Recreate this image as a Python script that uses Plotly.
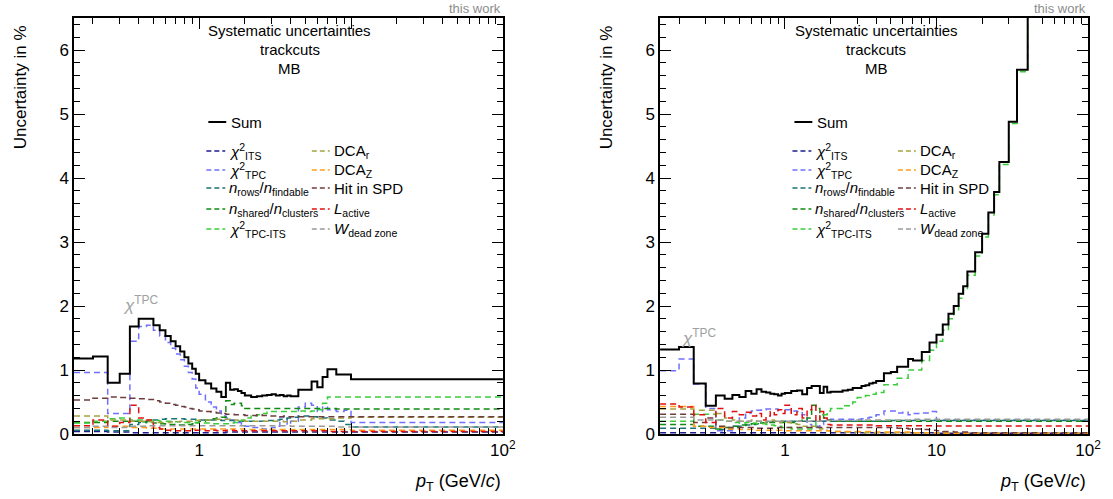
import plotly.graph_objects as go

# ---------------- data ----------------
EDGES_L = [0.15, 0.2, 0.25, 0.3, 0.35, 0.4, 0.45, 0.5, 0.55, 0.6, 0.65, 0.7, 0.75, 0.8, 0.85, 0.9, 0.95,
           1.0, 1.1, 1.2, 1.3, 1.4, 1.5, 1.6, 1.7, 1.8, 1.9,
           2.0, 2.2, 2.4, 2.6, 2.8, 3.0, 3.2, 3.4, 3.6, 3.8,
           4.0, 4.5, 5.0, 5.5, 6.0, 6.5, 7.0, 8.0, 9.0, 10.0, 100.0]
EDGES_R = [0.15, 0.2, 0.25, 0.3, 0.35, 0.4, 0.45, 0.5, 0.55, 0.6, 0.65, 0.7, 0.75, 0.8, 0.85, 0.9, 0.95,
           1.0, 1.1, 1.2, 1.3, 1.4, 1.5, 1.6, 1.7, 1.8, 1.9,
           2.0, 2.2, 2.4, 2.6, 2.8, 3.0, 3.2, 3.4, 3.6, 3.8,
           4.0, 4.5, 5.0, 5.5, 6.0, 6.5, 7.0, 8.0, 9.0, 10.0,
           11, 12, 13, 14, 15, 16, 18, 20, 22, 24, 26, 30, 34, 40, 50, 60, 80, 100]

# left panel (47 bins)
sum_L = [1.18, 1.21, 0.80, 0.94, 1.68, 1.80, 1.80, 1.70, 1.62, 1.53, 1.45, 1.37, 1.29, 1.20, 1.10, 1.02, 0.94,
         0.84, 0.79, 0.71, 0.66, 0.58, 0.80, 0.69, 0.70, 0.67, 0.64,
         0.60, 0.58, 0.59, 0.60, 0.61, 0.62, 0.60, 0.61, 0.59, 0.60,
         0.59, 0.69, 0.69, 0.82, 0.73, 0.89,
         1.01, 0.93, 0.93,
         0.855]
chi2its_L = [0.04, 0.04, 0.03, 0.03, 0.02, 0.02, 0.02, 0.02, 0.02, 0.02, 0.02, 0.02, 0.02, 0.02, 0.02, 0.02, 0.02,
             0.02, 0.02, 0.02, 0.02, 0.02, 0.03, 0.03, 0.03, 0.03, 0.03,
             0.03, 0.03, 0.03, 0.03, 0.03, 0.03, 0.03, 0.03, 0.03, 0.03,
             0.03, 0.03, 0.03, 0.03, 0.03, 0.03,
             0.03, 0.03, 0.03,
             0.03]
chi2tpc_L = [0.96, 0.96, 0.32, 0.32, 1.45, 1.68, 1.70, 1.62, 1.53, 1.43, 1.34, 1.25, 1.16, 1.06, 0.96, 0.86, 0.72,
             0.62, 0.50, 0.42, 0.36, 0.28, 0.25, 0.22, 0.20, 0.18, 0.15,
             0.12, 0.10, 0.10, 0.08, 0.08, 0.10, 0.12, 0.27, 0.25, 0.15,
             0.20, 0.42, 0.48, 0.45, 0.35, 0.42,
             0.38, 0.35, 0.37,
             0.18]
nrows_L = [0.06, 0.06, 0.05, 0.05, 0.15, 0.18, 0.20, 0.22, 0.23, 0.24, 0.24, 0.24, 0.24, 0.23, 0.23, 0.23, 0.22,
           0.22, 0.22, 0.22, 0.22, 0.21, 0.21, 0.21, 0.21, 0.20, 0.20,
           0.20, 0.20, 0.20, 0.20, 0.21, 0.21, 0.22, 0.23, 0.24, 0.25,
           0.26, 0.28, 0.28, 0.27, 0.26, 0.25,
           0.22, 0.20, 0.15,
           0.11]
nshared_L = [0.18, 0.18, 0.20, 0.20, 0.20, 0.19, 0.18, 0.17, 0.16, 0.15, 0.15, 0.14, 0.14, 0.14, 0.15, 0.16, 0.18,
             0.20, 0.22, 0.24, 0.25, 0.26, 0.52, 0.46, 0.48, 0.48, 0.44,
             0.40, 0.40, 0.40, 0.40, 0.40, 0.40, 0.40, 0.40, 0.40, 0.40,
             0.40, 0.40, 0.40, 0.40, 0.40, 0.40,
             0.40, 0.39, 0.39,
             0.39]
chi2tpcits_L = [0.17, 0.20, 0.24, 0.25, 0.22, 0.22, 0.22, 0.21, 0.20, 0.20, 0.19, 0.19, 0.19, 0.18, 0.18, 0.18, 0.17,
                0.17, 0.17, 0.16, 0.16, 0.16, 0.16, 0.17, 0.18, 0.20, 0.22,
                0.25, 0.28, 0.30, 0.32, 0.34, 0.35, 0.35, 0.35, 0.35, 0.35,
                0.35, 0.36, 0.35, 0.36, 0.38, 0.48,
                0.58, 0.58, 0.58,
                0.58]
dcar_L = [0.28, 0.28, 0.22, 0.22, 0.20, 0.20, 0.19, 0.18, 0.18, 0.18, 0.19, 0.19, 0.20, 0.20, 0.20, 0.21, 0.21,
          0.22, 0.22, 0.22, 0.23, 0.23, 0.23, 0.22, 0.22, 0.21, 0.21,
          0.20, 0.20, 0.20, 0.20, 0.20, 0.20, 0.20, 0.20, 0.19, 0.20,
          0.20, 0.22, 0.22, 0.24, 0.24, 0.24,
          0.24, 0.25, 0.25,
          0.26]
dcaz_L = [0.10, 0.10, 0.12, 0.12, 0.10, 0.10, 0.09, 0.09, 0.08, 0.08, 0.08, 0.08, 0.08, 0.08, 0.08, 0.08, 0.08,
          0.08, 0.08, 0.08, 0.08, 0.08, 0.08, 0.08, 0.08, 0.08, 0.08,
          0.07, 0.07, 0.07, 0.07, 0.07, 0.07, 0.07, 0.07, 0.07, 0.07,
          0.07, 0.07, 0.07, 0.07, 0.07, 0.07,
          0.07, 0.07, 0.07,
          0.06]
spd_L = [0.53, 0.56, 0.58, 0.57, 0.56, 0.55, 0.54, 0.52, 0.50, 0.48, 0.46, 0.45, 0.43, 0.42, 0.40, 0.39, 0.38,
         0.36, 0.35, 0.34, 0.33, 0.32, 0.31, 0.31, 0.30, 0.30, 0.30,
         0.29, 0.29, 0.30, 0.29, 0.28, 0.28, 0.28, 0.27, 0.28, 0.27,
         0.27, 0.27, 0.27, 0.27, 0.27, 0.27,
         0.27, 0.27, 0.27,
         0.27]
lactive_L = [0.13, 0.22, 0.12, 0.18, 0.45, 0.25, 0.22, 0.10, 0.08, 0.06, 0.05, 0.05, 0.05, 0.05, 0.05, 0.06, 0.06,
             0.06, 0.05, 0.06, 0.05, 0.05, 0.06, 0.06, 0.05, 0.05, 0.05,
             0.05, 0.05, 0.05, 0.05, 0.05, 0.05, 0.05, 0.05, 0.05, 0.05,
             0.05, 0.05, 0.05, 0.05, 0.05, 0.05,
             0.04, 0.04, 0.04,
             0.04]
wdead_L = [0.10, 0.12, 0.10, 0.10, 0.12, 0.12, 0.13, 0.13, 0.13, 0.13, 0.13, 0.13, 0.13, 0.13, 0.13, 0.13, 0.13,
           0.13, 0.13, 0.13, 0.13, 0.13, 0.13, 0.13, 0.13, 0.13, 0.13,
           0.13, 0.13, 0.13, 0.13, 0.13, 0.13, 0.13, 0.13, 0.13, 0.13,
           0.12, 0.12, 0.12, 0.12, 0.12, 0.12,
           0.12, 0.11, 0.11,
           0.11]

# right panel (64 bins)
sum_R = [1.32, 1.36, 0.79, 0.44, 0.60, 0.55, 0.61, 0.58, 0.67, 0.63, 0.70, 0.66, 0.65, 0.63, 0.62, 0.60, 0.63,
         0.64, 0.67, 0.68, 0.62, 0.72, 0.75, 0.75, 0.64, 0.74, 0.65,
         0.66, 0.66, 0.68, 0.69, 0.72, 0.72, 0.75, 0.76, 0.79, 0.80,
         0.83, 0.95, 0.97, 1.05, 1.05, 1.17,
         1.15, 1.28, 1.43,
         1.55, 1.71, 1.88, 2.00, 2.19, 2.31, 2.54, 2.84, 3.13, 3.46, 3.78, 4.25, 4.88, 5.69, 7.20, 8.80, 11.0, 14.5]
chi2its_R = [0.02, 0.02, 0.02, 0.02, 0.02, 0.02, 0.02, 0.02, 0.02, 0.02, 0.02, 0.02, 0.02, 0.02, 0.02, 0.02, 0.02,
             0.02, 0.02, 0.02, 0.02, 0.02, 0.02, 0.02, 0.02, 0.02, 0.02,
             0.02, 0.02, 0.02, 0.02, 0.02, 0.02, 0.02, 0.02, 0.02, 0.02,
             0.02, 0.02, 0.02, 0.02, 0.02, 0.02,
             0.02, 0.02, 0.02,
             0.01, 0.01, 0.01, 0.01, 0.01, 0.01, 0.01, 0.01, 0.01, 0.01, 0.01, 0.01, 0.01, 0.01, 0.01, 0.01, 0.01, 0.01]
chi2tpc_R = [0.99, 1.17, 0.78, 0.40, 0.05, 0.05, 0.12, 0.25, 0.33, 0.36, 0.37, 0.38, 0.39, 0.39, 0.39, 0.38, 0.38,
             0.38, 0.36, 0.35, 0.30, 0.15, 0.10, 0.12, 0.15, 0.20, 0.22,
             0.23, 0.23, 0.23, 0.23, 0.23, 0.23, 0.24, 0.25, 0.26, 0.28,
             0.30, 0.36, 0.36, 0.33, 0.34, 0.30,
             0.32, 0.33, 0.35,
             0.22, 0.22, 0.22, 0.22, 0.22, 0.22, 0.22, 0.22, 0.22, 0.22, 0.22, 0.22, 0.22, 0.22, 0.22, 0.22, 0.22, 0.22]
nrows_R = [0.09, 0.09, 0.09, 0.09, 0.07, 0.08, 0.10, 0.12, 0.14, 0.15, 0.16, 0.17, 0.18, 0.19, 0.20, 0.20, 0.20,
           0.20, 0.20, 0.20, 0.20, 0.20, 0.20, 0.20, 0.20, 0.20, 0.20,
           0.20, 0.20, 0.20, 0.20, 0.20, 0.20, 0.20, 0.20, 0.20, 0.20,
           0.20, 0.20, 0.21, 0.21, 0.21, 0.21,
           0.21, 0.21, 0.21,
           0.21, 0.21, 0.21, 0.21, 0.21, 0.21, 0.21, 0.21, 0.21, 0.21, 0.21, 0.21, 0.21, 0.21, 0.21, 0.21, 0.21, 0.21]
nshared_R = [0.15, 0.15, 0.12, 0.12, 0.08, 0.10, 0.12, 0.14, 0.15, 0.16, 0.17, 0.17, 0.18, 0.18, 0.18, 0.18, 0.18,
             0.18, 0.18, 0.20, 0.22, 0.25, 0.45, 0.40, 0.30, 0.25, 0.22,
             0.20, 0.20, 0.20, 0.20, 0.20, 0.20, 0.20, 0.20, 0.20, 0.20,
             0.20, 0.20, 0.20, 0.20, 0.20, 0.20,
             0.20, 0.20, 0.20,
             0.20, 0.20, 0.20, 0.20, 0.20, 0.20, 0.20, 0.20, 0.20, 0.20, 0.20, 0.20, 0.20, 0.20, 0.20, 0.20, 0.20, 0.20]
chi2tpcits_R = [0.20, 0.20, 0.31, 0.31, 0.22, 0.20, 0.18, 0.17, 0.18, 0.17, 0.16, 0.16, 0.15, 0.14, 0.13, 0.12, 0.10,
                0.10, 0.08, 0.08, 0.08, 0.08, 0.10, 0.20, 0.28, 0.30, 0.36,
                0.40, 0.40, 0.44, 0.44, 0.50, 0.57, 0.57, 0.60, 0.62, 0.62,
                0.65, 0.77, 0.77, 0.87, 0.87, 1.00,
                1.00, 1.15, 1.31,
                1.45, 1.62, 1.80, 1.93, 2.12, 2.25, 2.48, 2.78, 3.08, 3.42, 3.74, 4.21, 4.85, 5.66, 7.20, 8.80, 11.0, 14.5]
dcar_R = [0.39, 0.39, 0.37, 0.37, 0.32, 0.25, 0.22, 0.20, 0.20, 0.22, 0.20, 0.18, 0.20, 0.22, 0.20, 0.18, 0.20,
          0.18, 0.16, 0.15, 0.12, 0.10, 0.12, 0.10, 0.08, 0.06, 0.05,
          0.04, 0.04, 0.03, 0.03, 0.03, 0.03, 0.02, 0.02, 0.02, 0.02,
          0.02, 0.02, 0.02, 0.02, 0.02, 0.02,
          0.02, 0.02, 0.02,
          0.02, 0.02, 0.02, 0.02, 0.02, 0.02, 0.02, 0.02, 0.02, 0.02, 0.02, 0.02, 0.02, 0.02, 0.02, 0.02, 0.02, 0.02]
dcaz_R = [0.43, 0.43, 0.12, 0.10, 0.10, 0.08, 0.08, 0.07, 0.07, 0.07, 0.06, 0.06, 0.06, 0.06, 0.06, 0.06, 0.06,
          0.05, 0.05, 0.05, 0.05, 0.05, 0.05, 0.05, 0.05, 0.05, 0.05,
          0.04, 0.04, 0.04, 0.04, 0.04, 0.04, 0.04, 0.04, 0.04, 0.04,
          0.03, 0.03, 0.03, 0.03, 0.03, 0.03,
          0.02, 0.02, 0.02,
          0.01, 0.01, 0.01, 0.01, 0.01, 0.01, 0.01, 0.01, 0.01, 0.01, 0.01, 0.01, 0.01, 0.01, 0.01, 0.01, 0.01, 0.01]
spd_R = [0.31, 0.31, 0.18, 0.25, 0.12, 0.10, 0.10, 0.10, 0.10, 0.10, 0.09, 0.09, 0.09, 0.09, 0.09, 0.10, 0.10,
         0.10, 0.10, 0.10, 0.10, 0.10, 0.10, 0.10, 0.10, 0.10, 0.10,
         0.10, 0.10, 0.10, 0.10, 0.10, 0.10, 0.10, 0.10, 0.10, 0.10,
         0.10, 0.10, 0.10, 0.09, 0.09, 0.08,
         0.08, 0.07, 0.06,
         0.05, 0.04, 0.04, 0.03, 0.03, 0.03, 0.02, 0.02, 0.02, 0.02, 0.02, 0.02, 0.02, 0.02, 0.02, 0.02, 0.02, 0.02]
lactive_R = [0.47, 0.42, 0.30, 0.18, 0.40, 0.25, 0.35, 0.30, 0.34, 0.28, 0.32, 0.22, 0.28, 0.35, 0.30, 0.38, 0.32,
             0.45, 0.30, 0.40, 0.25, 0.38, 0.45, 0.20, 0.35, 0.25, 0.15,
             0.14, 0.14, 0.14, 0.14, 0.14, 0.14, 0.14, 0.14, 0.14, 0.14,
             0.13, 0.13, 0.13, 0.13, 0.13, 0.13,
             0.13, 0.13, 0.13,
             0.125, 0.125, 0.125, 0.125, 0.125, 0.125, 0.125, 0.125, 0.125, 0.125, 0.125, 0.125, 0.125, 0.125, 0.125, 0.125, 0.125, 0.125]
wdead_R = [0.26, 0.26, 0.22, 0.22, 0.22, 0.20, 0.20, 0.20, 0.20, 0.20, 0.20, 0.20, 0.20, 0.20, 0.20, 0.20, 0.20,
           0.20, 0.20, 0.20, 0.20, 0.20, 0.20, 0.20, 0.20, 0.21, 0.21,
           0.21, 0.21, 0.21, 0.21, 0.21, 0.22, 0.22, 0.22, 0.22, 0.22,
           0.22, 0.22, 0.22, 0.22, 0.22, 0.22,
           0.23, 0.23, 0.23,
           0.23, 0.23, 0.23, 0.23, 0.23, 0.23, 0.23, 0.23, 0.23, 0.23, 0.23, 0.23, 0.23, 0.23, 0.23, 0.23, 0.23, 0.23]

X_TICKS = [1, 10, 100]
X_TICKTEXT = ["1", "10", "10<sup>2</sup>"]
X_MINOR = [0.2, 0.3, 0.4, 0.5, 0.6, 0.7, 0.8, 0.9, 2, 3, 4, 5, 6, 7, 8, 9, 20, 30, 40, 50, 60, 70, 80, 90]
Y_TICKS = [0, 1, 2, 3, 4, 5, 6]

COMPONENTS = [
    ("chi2its", "#1c1c8f", "<i>χ</i><sup>2</sup><sub>ITS</sub>"),
    ("chi2tpc", "#7070ff", "<i>χ</i><sup>2</sup><sub>TPC</sub>"),
    ("nrows", "#1a7373", "<i>n</i><sub>rows</sub>/<i>n</i><sub>findable</sub>"),
    ("nshared", "#108a10", "<i>n</i><sub>shared</sub>/<i>n</i><sub>clusters</sub>"),
    ("chi2tpcits", "#3acc3a", "<i>χ</i><sup>2</sup><sub>TPC-ITS</sub>"),
    ("dcar", "#a3a342", "DCA<sub>r</sub>"),
    ("dcaz", "#ff9d1a", "DCA<sub>Z</sub>"),
    ("spd", "#6e3c3c", "Hit in SPD"),
    ("lactive", "#e01010", "<i>L</i><sub>active</sub>"),
    ("wdead", "#9a9a9a", "<i>W</i><sub>dead zone</sub>"),
]
DATA_L = {"chi2its": chi2its_L, "chi2tpc": chi2tpc_L, "nrows": nrows_L, "nshared": nshared_L,
          "chi2tpcits": chi2tpcits_L, "dcar": dcar_L, "dcaz": dcaz_L, "spd": spd_L,
          "lactive": lactive_L, "wdead": wdead_L}
DATA_R = {"chi2its": chi2its_R, "chi2tpc": chi2tpc_R, "nrows": nrows_R, "nshared": nshared_R,
          "chi2tpcits": chi2tpcits_R, "dcar": dcar_R, "dcaz": dcaz_R, "spd": spd_R,
          "lactive": lactive_R, "wdead": wdead_R}

# ---------------- layout geometry ----------------
W, H = 1113, 499
ML, MR, MT, MB = 74, 20, 18, 65
PW = W - ML - MR
PH = H - MT - MB
FONT = "Liberation Sans, Arial, sans-serif"


def fx(p):
    return (p - ML) / PW


def fy(p):
    return (H - MB - p) / PH


fig = go.Figure()


def step(edges, vals, xa, ya, color, dash, width):
    fig.add_trace(go.Scatter(
        x=edges, y=list(vals) + [vals[-1]], mode="lines", xaxis=xa, yaxis=ya,
        line=dict(shape="hv", color=color, dash=dash, width=width),
        showlegend=False, hoverinfo="skip"))


for edges, data, s, xa, ya in [(EDGES_L, DATA_L, sum_L, "x", "y"), (EDGES_R, DATA_R, sum_R, "x2", "y2")]:
    for key, col, _ in COMPONENTS:
        step(edges, data[key], xa, ya, col, "6px,4px", 1.5)
    step(edges, s, xa, ya, "black", "solid", 2)

axis_common = dict(showline=True, linecolor="black", linewidth=1.5, mirror="ticks",
                   ticks="inside", tickcolor="black", showgrid=False, zeroline=False,
                   tickfont=dict(family=FONT, size=17, color="black"))
xa = dict(type="log", range=[-0.8239, 2], tickvals=X_TICKS, ticktext=X_TICKTEXT, ticklen=11, tickwidth=1.3,
          minor=dict(tickvals=X_MINOR, ticks="inside", ticklen=6, tickcolor="black", tickwidth=1.2),
          **axis_common)
ya = dict(range=[0, 6.5], tickvals=Y_TICKS, ticklen=11, tickwidth=1.3,
          minor=dict(dtick=0.2, tick0=0, ticks="inside", ticklen=6, tickcolor="black", tickwidth=1.2),
          **axis_common)

dom_l = [0, fx(505)]
dom_r = [fx(663), 1]
fig.update_layout(
    width=W, height=H, margin=dict(l=ML, r=MR, t=MT, b=MB),
    paper_bgcolor="white", plot_bgcolor="white", showlegend=False,
    font=dict(family=FONT, color="black"),
    xaxis={**xa, "domain": dom_l, "anchor": "y"},
    yaxis={**ya, "domain": [0, 1], "anchor": "x"},
    xaxis2={**xa, "domain": dom_r, "anchor": "y2"},
    yaxis2={**ya, "domain": [0, 1], "anchor": "x2"},
)

ann = []
shapes = []


def text(x, y, t, size=16, color="black", xanchor="left", yanchor="middle", angle=0):
    ann.append(dict(x=fx(x), y=fy(y), xref="paper", yref="paper", text=t, showarrow=False,
                    xanchor=xanchor, yanchor=yanchor, textangle=angle,
                    font=dict(family=FONT, size=size, color=color)))


def seg(x0, x1, y, color, dash, width=1.5):
    shapes.append(dict(type="line", xref="paper", yref="paper", x0=fx(x0), x1=fx(x1), y0=fy(y), y1=fy(y),
                       line=dict(color=color, dash=dash, width=width)))


ROWS1 = [151, 170, 188, 209, 229]
for off, xend, chi_pos in [(0, 505, (141, 304)), (589, 1093, (702, 337))]:
    # header
    cx = 291 + off
    text(cx, 30, "Systematic uncertainties", 15, xanchor="center")
    text(cx, 50, "trackcuts", 15, xanchor="center")
    text(cx, 68, "MB", 15, xanchor="center")
    # this work
    text(xend, 8, "this work", 13, color="#8c8c8c", xanchor="right")
    # axis titles
    text(21 + off, 87, "Uncertainty in %", 17, xanchor="center", angle=-90)
    text(xend, 482, "<i>p</i><sub>T</sub> (GeV/<i>c</i>)", 18, xanchor="right")
    # chi TPC label
    text(chi_pos[0], chi_pos[1], "<i>χ</i><sup>TPC</sup>", 17, color="#a0a0a0", xanchor="center")
    # legend
    seg(209 + off, 227 + off, 122, "black", "solid", 2)
    text(230 + off, 122, "Sum", 15)
    for i, (key, col, lab) in enumerate(COMPONENTS):
        r = i % 5
        if i < 5:
            x0, x1, xt = 207, 226, 228
        else:
            x0, x1, xt = 313, 331, 333
        seg(x0 + off, x1 + off, ROWS1[r], col, "5px,3px")
        text(xt + off, ROWS1[r], lab, 15)

fig.update_layout(annotations=ann, shapes=shapes)
fig.write_html("out.html")
